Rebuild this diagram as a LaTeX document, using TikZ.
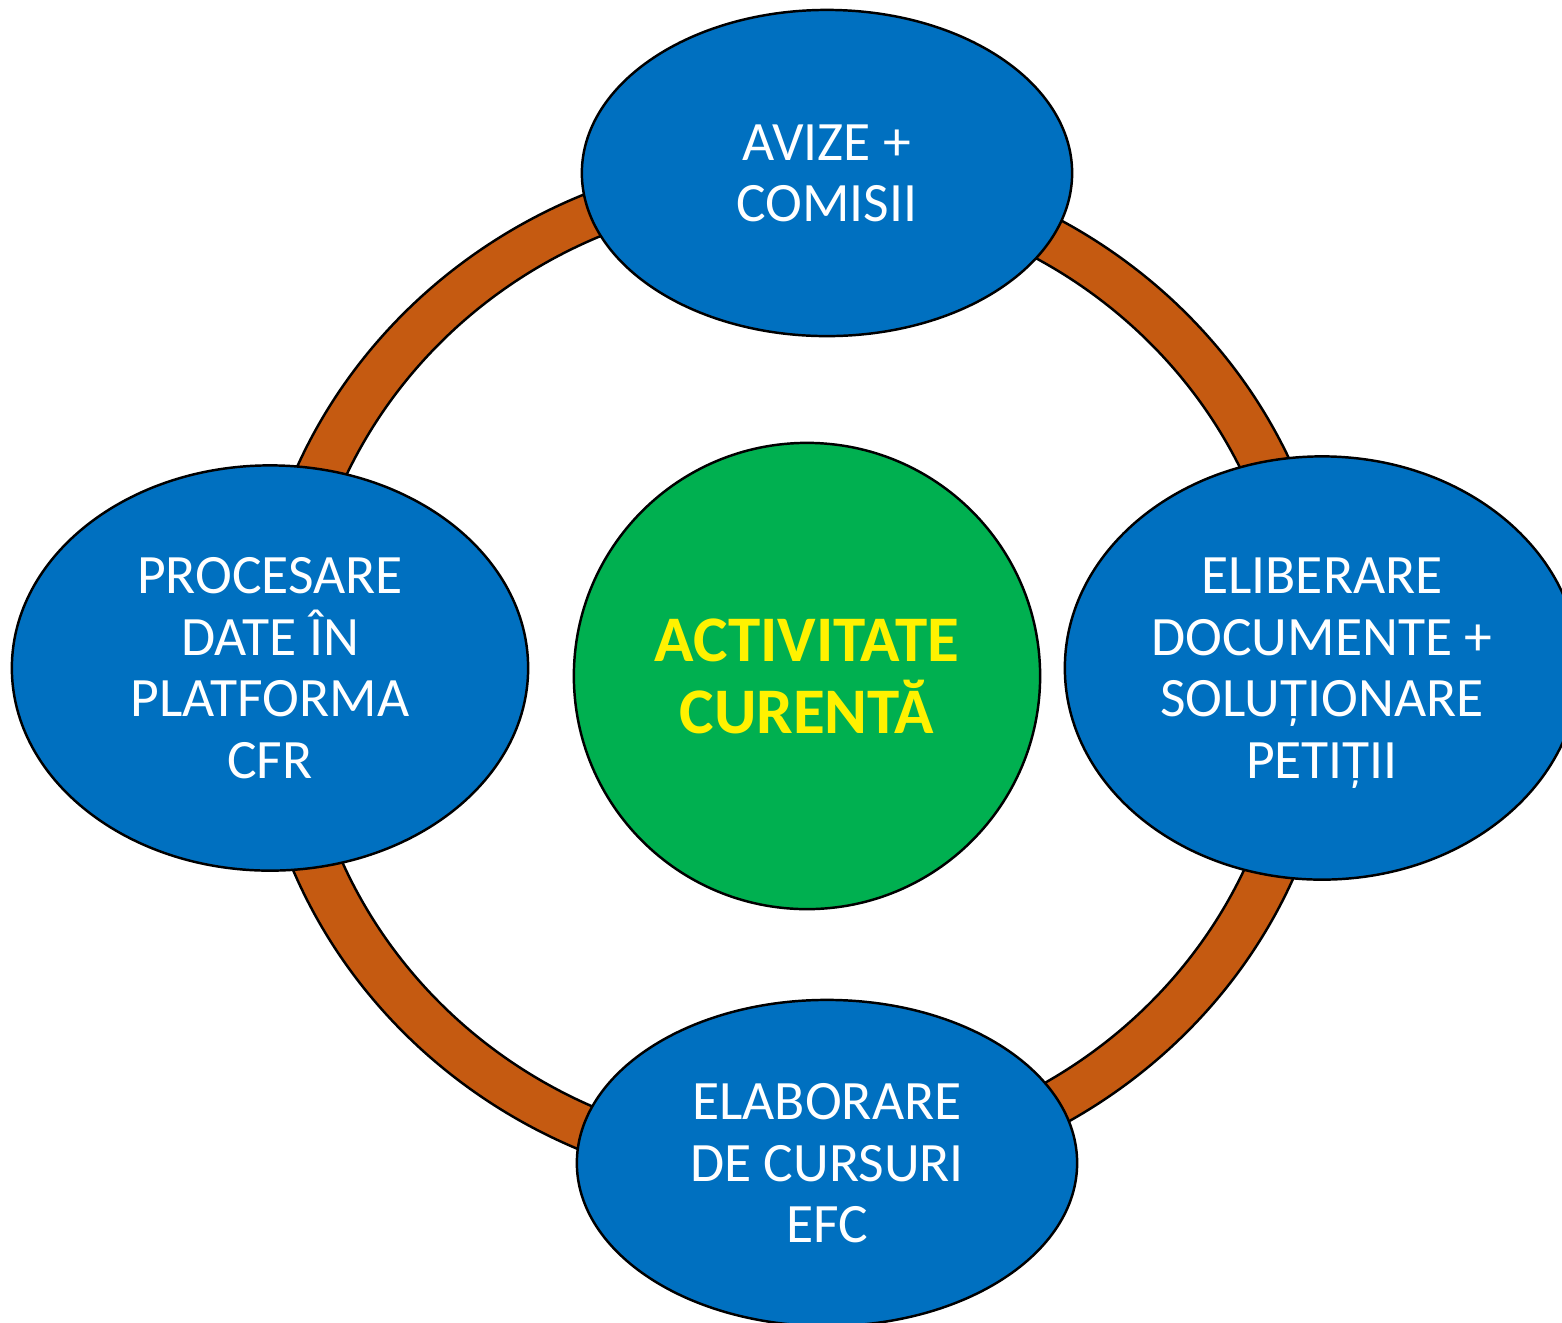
\documentclass[tikz,border=0pt]{standalone}
\usepackage{fontspec}
\setmainfont{Carlito}
\usepackage{tikz}
\usetikzlibrary{shapes}
\definecolor{ringbrown}{HTML}{C55A11}
\definecolor{boxblue}{HTML}{0070C0}
\definecolor{midgreen}{HTML}{00B050}

\begin{document}
\begin{tikzpicture}[x=0.01cm, y=-0.01cm,
  blob/.style={ellipse, draw=black, line width=0.7pt, fill=boxblue, text=white, align=center, inner sep=0pt, text depth=0pt, font=\fontsize{15.8}{17.5}\selectfont},
  core/.style={circle, draw=black, line width=0.7pt, fill=midgreen, text=yellow, align=center, inner sep=0pt, text depth=0pt, minimum size=4.66cm, font=\bfseries\fontsize{18.5}{20.5}\selectfont}]
\useasboundingbox (0,0) rectangle (1562,1323);

\path [fill=ringbrown, draw=black, line width=0.7pt, even odd rule] (795,673) ellipse [x radius=5.42cm, y radius=5.19cm] (795,673) ellipse [x radius=4.93cm, y radius=4.75cm];

\node [blob, minimum width=4.9cm, minimum height=3.26cm] (avize) at (827,173) {AVIZE +\\COMISII};
\node [blob, minimum width=5.16cm, minimum height=4.05cm] (procesare) at (270,668) {PROCESARE\\DATE ÎN\\PLATFORMA\\CFR};
\node [blob, minimum width=5.14cm, minimum height=4.23cm] (eliberare) at (1322,668) {ELIBERARE\\DOCUMENTE +\\SOLUȚIONARE\\PETIȚII};
\node [blob, minimum width=5.0cm, minimum height=3.26cm] (elaborare) at (827,1163) {ELABORARE\\DE CURSURI\\EFC};

\node [core] (activitate) at (807,676) {ACTIVITATE\\CURENTĂ};
\end{tikzpicture}
\end{document}
